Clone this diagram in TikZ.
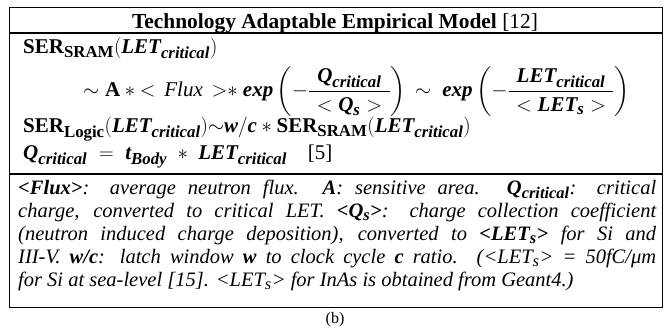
\documentclass[tikz,border=0pt]{standalone}
\usepackage{amsmath}
\usepackage{fontspec}
\setmainfont{Liberation Serif}
\renewcommand\defaultscriptratio{.8}
\usetikzlibrary{positioning}
\newcommand{\bi}[1]{\text{\bfseries\itshape #1}}
\newcommand{\bu}[1]{\text{\bfseries\upshape #1}}
\newcommand{\padnum}[1]{\hspace{8pt}#1\hspace{8pt}}

\begin{document}
\begin{tikzpicture}[
x=1pt, y=-1pt,
frame/.style={draw=black, line width=1.6pt},
title/.style={font=\fontsize{21.4}{24}\selectfont\bfseries, anchor=base, inner sep=0pt},
formula/.style={font=\fontsize{21}{24}\selectfont, anchor=base west, inner sep=0pt},
notes/.style={text width=638pt, align=justify, font=\fontsize{20.5}{23}\selectfont\itshape, anchor=north west, inner sep=0pt},
caption/.style={font=\fontsize{16}{19}\selectfont, anchor=base, inner sep=0pt}
]
\useasboundingbox (0,0) rectangle (670,336);
% outer frame and rules
\coordinate (tl) at (9.5,7.5);
\coordinate (br) at (662.5,307.5);
\draw[frame] (tl) rectangle (br);
\draw[frame] (9.5,33) -- (662.5,33);
\draw[frame] (9.5,174) -- (662.5,174);
% header
\node[title] (head) at (335,28.5) {Technology Adaptable Empirical Model \textmd{[12]}};
% formulas
\node[formula] (sram) at (23,54) {$\bu{SER}_{\bu{SRAM}}(\bi{LET}_{\bi{critical}})$};
\node[formula] (flux) at (83,97) {$\sim \bu{A} *{<}\ \,\text{\itshape Flux}\,\ {>}{*}\ \bi{exp}\left(-\dfrac{\padnum{\bi{Q}_{\bi{critical}}}}{<\bi{Q}_{\bi{s}}>}\right)\;{\sim}\;\ \bi{exp}\left(-\dfrac{\padnum{\bi{LET}_{\bi{critical}}}}{<\bi{LET}_{\bi{s}}>}\right)$};
\node[formula] (logic) at (23,132.7) {$\bu{SER}_{\bu{Logic}}(\bi{LET}_{\bi{critical}}){\sim}\bi{w}/\bi{c} * \bu{SER}_{\bu{SRAM}}(\bi{LET}_{\bi{critical}})$};
\node[formula] (qcrit) at (23,159.5) {$\bi{Q}_{\bi{critical}} \;=\; \bi{t}_{\bi{Body}} \;*\; \bi{LET}_{\bi{critical}}$\quad[5]};
% legend
\node[notes] (legend) at (18,179.5) {\textbf{<Flux>}: average neutron flux.\ \ \textbf{A}: sensitive area. \textbf{Q}\textsubscript{\textbf{critical}}: critical\linebreak
charge, converted to critical LET. \textbf{<Q\textsubscript{s}>}: charge collection coefficient\linebreak
(neutron induced charge deposition), converted to \textbf{<LET\textsubscript{s}>} for Si and\linebreak
III-V. \textbf{w/c}: latch window \textbf{w} to clock cycle \textbf{c} ratio. (<LET\textsubscript{s}> = 50fC/μm\linebreak
for Si at sea-level [15]. <LET\textsubscript{s}> for InAs is obtained from Geant4.)};
\node[caption] (cap) at (335,324) {(b)};
\end{tikzpicture}
\end{document}
